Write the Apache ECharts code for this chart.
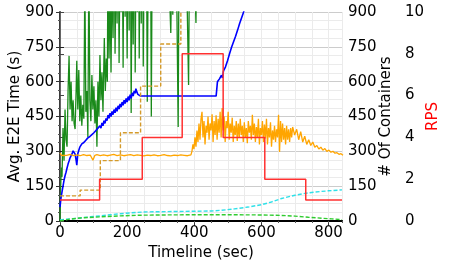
<!DOCTYPE html>
<html><head><meta charset="utf-8">
<script src="https://cdn.jsdelivr.net/npm/echarts@6/dist/echarts.min.js"></script>
<style>html,body{margin:0;padding:0;background:#fff}#c{width:449px;height:267px}</style>
</head><body><div id="c"></div>
<script>
// ---- data (time in sec, value) ----
const xTicks = [0, 200, 400, 600, 800];
const e2eGreen = [[0,0],[2,150],[4,230],[6,190],[9,400],[12,260],[15,480],[18,350],[21,320],[24,560],[27,711],[30,480],[33,600],[36,430],[39,520],[42,420],[45,396],[48,560],[50,690],[53,480],[56,650],[59,430],[62,540],[65,410],[68,500],[71,440],[74,1050],[77,470],[80,560],[83,362],[86,1100],[89,520],[92,430],[95,629],[98,480],[101,580],[104,420],[107,520],[110,320],[113,600],[116,450],[119,715],[122,520],[125,640],[128,470],[132,788],[135,560],[138,700],[141,600],[143,1200],[146,700],[149,1000],[152,640],[155,1100],[158,788],[161,1300],[164,720],[167,1150],[170,850],[173,1400],[176,680],[179,1200],[182,900],[185,1300],[188,660],[191,1500],[194,880],[197,1250],[200,700],[203,1400],[206,820],[209,1600],[212,465],[215,1300],[218,760],[221,1500],[224,640],[227,1350],[230,900],[233,1600],[236,700],[239,1400],[242,850],[245,1500],[248,665],[251,1300],[254,930],[257,1400],[260,513],[263,1200],[266,980],[269,1500],[272,450],[275,1300],[280,1100],[285,1400],[290,1200],[295,1500],[300,1300],[310,1450],[320,1250],[330,810],[333,1100],[336,888],[340,1300],[346,1200],[352,405],[355,1300],[365,1400],[375,1250],[383,586],[386,1200],[395,1350],[405,853],[408,1300],[420,1400]];
const e2eBlue = [[0,60],[3,100],[6,125],[9,150],[12,175],[15,195],[18,210],[21,228],[24,245],[27,258],[30,272],[33,280],[36,290],[39,302],[42,296],[45,288],[48,262],[50,240],[53,290],[56,305],[59,318],[62,312],[65,332],[68,326],[71,338],[74,332],[77,348],[80,340],[83,358],[86,350],[89,364],[92,356],[95,372],[98,364],[101,380],[104,374],[107,390],[110,382],[113,400],[116,392],[119,410],[122,400],[125,422],[128,410],[131,432],[134,420],[137,442],[140,432],[143,456],[146,442],[149,464],[152,450],[155,472],[158,458],[161,480],[164,466],[167,488],[170,472],[173,496],[176,482],[179,504],[182,490],[185,512],[188,498],[191,520],[194,506],[197,528],[200,512],[203,536],[206,520],[209,544],[212,528],[215,552],[218,538],[221,560],[224,550],[226,570],[229,556],[232,545],[236,540],[240,538],[300,538],[400,538],[465,538],[467,568],[469,600],[472,592],[475,612],[478,604],[481,628],[484,616],[487,646],[490,638],[493,664],[496,656],[499,690],[502,684],[505,720],[508,712],[511,748],[514,740],[517,772],[520,764],[523,796],[526,790],[529,822],[532,815],[535,850],[538,845],[541,875],[544,868],[547,900],[550,920],[560,980]];
const e2eOrange = [[0,292],[5,282],[10,286],[20,283],[30,287],[40,282],[50,285],[60,281],[70,286],[80,282],[90,284],[98,262],[104,283],[110,286],[120,282],[130,285],[140,281],[150,284],[160,287],[170,282],[180,285],[190,281],[200,284],[210,286],[220,282],[230,285],[240,283],[250,280],[260,284],[270,282],[280,285],[290,281],[300,283],[310,286],[320,282],[330,280],[340,284],[350,282],[360,285],[370,283],[380,281],[390,285],[393,300],[396,330],[399,310],[402,360],[405,320],[408,390],[411,340],[414,420],[417,350],[420,440],[423,470],[426,360],[429,430],[432,330],[435,410],[438,380],[441,450],[444,350],[447,420],[450,390],[453,460],[456,340],[459,430],[462,370],[465,455],[468,350],[471,440],[474,380],[477,470],[480,360],[483,487],[486,390],[489,450],[492,340],[495,430],[498,400],[501,470],[504,350],[507,420],[510,380],[513,445],[516,340],[519,410],[522,370],[525,430],[528,345],[531,420],[534,360],[537,440],[540,370],[543,410],[546,340],[549,425],[552,360],[555,400],[558,335],[561,430],[564,380],[567,410],[570,350],[573,457],[576,370],[579,420],[582,340],[585,405],[588,360],[591,440],[594,330],[597,400],[600,370],[603,430],[606,340],[609,415],[612,355],[615,440],[618,330],[621,400],[624,360],[627,425],[630,320],[633,390],[636,350],[639,410],[642,340],[645,395],[648,360],[651,457],[654,297],[657,430],[660,340],[663,420],[666,350],[669,400],[672,330],[675,410],[678,350],[681,395],[684,340],[687,400],[690,360],[693,405],[699,370],[705,395],[711,350],[717,385],[723,340],[729,365],[735,330],[741,350],[747,325],[753,340],[759,318],[765,325],[771,310],[777,318],[783,305],[789,312],[795,300],[801,305],[807,296],[813,300],[819,292],[825,294],[831,287],[837,290],[843,283]];
const containersGold = [[0,108],[60,133],[120,260],[180,380],[240,581],[300,762],[360,980],[840,980]];
const containersCyan = [[0,5],[30,9],[60,13],[90,18],[120,22],[150,27],[180,31],[210,35],[250,39],[300,40],[350,41],[400,42],[450,43],[480,46],[520,52],[560,60],[600,70],[630,82],[660,97],[700,111],[730,119],[760,125],[800,130],[840,134]];
const containersLime = [[0,0],[30,8],[60,13],[120,18],[180,22],[240,25],[300,26],[400,27],[500,27],[600,26],[660,24],[700,21],[740,16],[780,12],[810,9],[840,6]];
const rps = [[0,1],[118,2],[245,4],[364,8],[486,4],[610,2],[732,1],[840,1]];

const FONT = 'DejaVu Sans';
const FS = 15;
const chart = echarts.init(document.getElementById('c'), null, {renderer: 'canvas'});
const lab = {color: '#000', fontFamily: FONT, fontSize: FS};
chart.setOption({
  animation: false,
  backgroundColor: '#fff',
  grid: {left: 60, right: 107, top: 12, bottom: 46, containLabel: false, outerBoundsMode: 'none'},
  xAxis: [
    {type: 'value', position: 'bottom', min: 0, max: 840, interval: 200,
     name: 'Timeline (sec)', nameLocation: 'middle', nameGap: 21,
     nameTextStyle: {color: '#000', fontFamily: FONT, fontSize: FS},
     axisLine: {show: true, lineStyle: {color: '#808080', width: 2}},
     axisTick: {show: true, length: 4, lineStyle: {color: '#333'}},
     axisLabel: Object.assign({margin: 5, showMaxLabel: false}, lab),
     splitLine: {show: true, lineStyle: {color: '#cccccc', width: 1}}},
    {type: 'value', position: 'bottom', min: 0, max: 840, interval: 50,
     axisLine: {show: false}, axisLabel: {show: false},
     axisTick: {show: true, length: 2, lineStyle: {color: '#555'}},
     splitLine: {show: true, lineStyle: {color: '#ebebeb', width: 1}}},
    {type: 'value', position: 'top', min: 0, max: 840,
     axisLine: {show: true, lineStyle: {color: '#000', width: 2}},
     axisTick: {show: false}, axisLabel: {show: false}, splitLine: {show: false}}
  ],
  yAxis: [
    {type: 'value', position: 'left', min: 0, max: 900, interval: 150,
     name: 'Avg. E2E Time (s)', nameLocation: 'middle', nameGap: 37, nameMoveOverlap: false,
     nameTextStyle: {color: '#000', fontFamily: FONT, fontSize: FS},
     axisLine: {show: true, lineStyle: {color: '#808080', width: 2}},
     axisTick: {show: true, length: 4, lineStyle: {color: '#333'}},
     minorTick: {show: true, splitNumber: 4, length: 2, lineStyle: {color: '#555'}},
     axisLabel: Object.assign({margin: 6}, lab),
     splitLine: {show: true, lineStyle: {color: '#cccccc', width: 1}},
     minorSplitLine: {show: true, lineStyle: {color: '#ebebeb', width: 1}}},
    {type: 'value', position: 'right', min: 0, max: 900, interval: 150,
     name: '# Of Containers', nameLocation: 'middle', nameGap: 37, nameMoveOverlap: false,
     nameTextStyle: {color: '#000', fontFamily: FONT, fontSize: FS},
     axisLine: {show: true, lineStyle: {color: '#222', width: 1.5}},
     axisTick: {show: true, length: 4, lineStyle: {color: '#222'}},
     axisLabel: Object.assign({margin: 6}, lab),
     splitLine: {show: false}},
    {type: 'value', position: 'right', offset: 58, min: 0, max: 10, interval: 2,
     name: 'RPS', nameLocation: 'middle', nameGap: 26, nameMoveOverlap: false,
     nameTextStyle: {color: '#ff0000', fontFamily: FONT, fontSize: FS},
     axisLine: {show: true, lineStyle: {color: '#666', width: 1}},
     axisTick: {show: true, length: 4, lineStyle: {color: '#444'}},
     axisLabel: Object.assign({margin: 5}, lab),
     splitLine: {show: false}}
  ],
  series: [
    {type: 'line', data: e2eGreen, xAxisIndex: 0, yAxisIndex: 0, showSymbol: false, clip: true,
     lineStyle: {color: '#1a8a1a', width: 1.3}},
    {type: 'line', data: e2eBlue, xAxisIndex: 0, yAxisIndex: 0, showSymbol: false, clip: true,
     lineStyle: {color: '#0000ff', width: 1.6}},
    {type: 'line', data: e2eOrange, xAxisIndex: 0, yAxisIndex: 0, showSymbol: false, clip: true,
     lineStyle: {color: '#ffa500', width: 1.3}},
    {type: 'line', data: containersGold, xAxisIndex: 0, yAxisIndex: 1, showSymbol: false, clip: true, step: 'end',
     lineStyle: {color: '#d49a2a', width: 1.4, type: [4, 2]}},
    {type: 'line', data: containersCyan, xAxisIndex: 0, yAxisIndex: 1, showSymbol: false, clip: true,
     lineStyle: {color: '#2fe0e8', width: 1.4, type: [4, 2]}},
    {type: 'line', data: containersLime, xAxisIndex: 0, yAxisIndex: 1, showSymbol: false, clip: true,
     lineStyle: {color: '#30cc30', width: 1.4, type: [4, 2]}},
    {type: 'line', data: rps, xAxisIndex: 0, yAxisIndex: 2, showSymbol: false, clip: true, step: 'end',
     lineStyle: {color: '#ff3030', width: 1.5}}
  ]
});
</script></body></html>
